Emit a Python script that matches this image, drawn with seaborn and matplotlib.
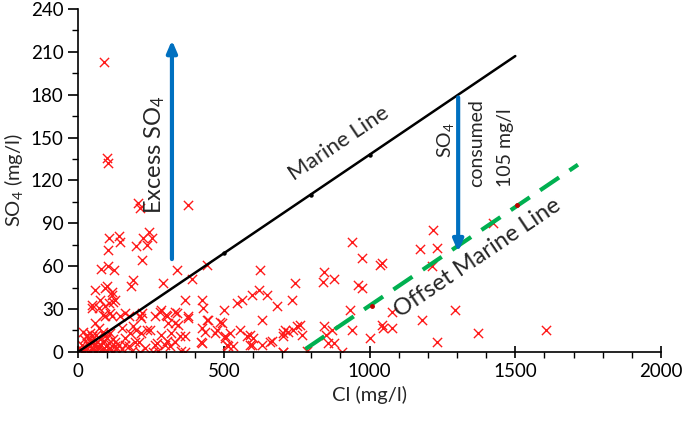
import matplotlib
matplotlib.use("Agg")
import matplotlib.pyplot as plt
import seaborn as sns
import pandas as pd

# Sample points: Cl (mg/l) and SO4 (mg/l)
cl = [89, 100, 103, 377, 206, 213,
      105, 140, 144, 103, 197, 222, 242, 254, 237, 220, 80, 103, 122, 340,
      441, 390, 293, 190, 181, 58, 98, 116, 75, 121, 47, 87, 116, 144, 173, 213, 281, 304, 339, 333,
      367, 378, 424, 430, 444, 424, 424, 501, 493, 505, 544, 561, 596, 624, 619, 647, 630, 681,
      556, 579, 596, 521, 476, 516, 659, 704, 702,
      218, 190, 236, 304, 270, 350, 316, 367, 213, 258,
      733, 744, 842, 839, 441, 436, 487, 590, 601, 590, 504, 510, 533, 470, 630, 664, 704, 710,
      721, 704, 750, 762, 767, 739, 784, 842, 851, 859,
      939, 973, 1042, 1036, 878, 962, 973, 933, 939, 870, 877, 905, 1002, 1042, 1047, 1076, 1076,
      1179, 1230, 1219, 1173, 1233, 1293, 1213, 1373, 1425, 1606,
      94, 117, 128, 48, 71, 94, 105, 111, 162, 94, 59, 71, 31, 48, 94, 151, 179, 197, 208, 162,
      128, 17, 41,
      284, 303, 331, 343, 377, 263, 309, 217, 246, 217, 286, 320, 366, 423, 263, 297, 331, 229, 274, 354,
      10, 15, 20, 25, 30, 35, 40, 45, 50, 55, 60, 65, 70, 75, 80, 85, 90, 95, 100, 105, 110, 115,
      120, 125, 130, 20, 35, 50, 60, 75, 85, 100, 110, 140, 150, 160, 175, 185, 195, 12, 28, 42,
      58, 68, 88]
so4 = [203, 136, 132, 103, 104, 101,
       80, 81, 77, 71, 74, 80, 84, 80, 75, 64, 58, 60, 57, 57,
       61, 51, 48, 50, 46, 43, 46, 40, 36, 35, 31, 26, 25, 25, 25, 25, 28, 25, 27, 20,
       36, 25, 36, 31, 22, 17, 6, 29, 20, 11, 34, 36, 40, 57, 43, 40, 22, 32,
       15, 11, 5, 13, 15, 4, 7, 13, 0,
       27, 18, 15, 8, 6, 11, 4, 0, 0, 0,
       36, 48, 56, 49, 22, 14, 21, 12, 10, 5, 10, 5, 4, 13, 5, 8, 0, 15,
       14, 11, 18, 19, 12, 15, 1, 18, 12, 6,
       77, 66, 62, 61, 51, 47, 45, 29, 15, 15, 6, 0, 10, 19, 17, 17, 28,
       22, 7, 85, 72, 73, 29, 60, 13, 90, 15,
       45, 42, 36, 33, 31, 32, 34, 27, 27, 25, 20, 17, 12, 11, 11, 17, 13, 15, 7, 5,
       7, 14, 13,
       29, 26, 28, 19, 24, 25, 20, 24, 15, 13, 12, 13, 11, 7, 5, 5, 7, 3, 1, 1,
       2, 5, 1, 3, 6, 0, 4, 8, 2, 5, 1, 7, 3, 0, 5, 2, 8, 4, 1, 6, 3, 0,
       9, 4, 2, 9, 10, 7, 12, 9, 14, 10, 13, 5, 2, 10, 4, 1, 7, 0, 2, 1,
       0, 4, 0]

# Marine line and offset marine line
marine_cl = [0, 1500]
marine_so4 = [0, 207]
marine_dot_cl = [500, 800, 1000]
marine_dot_so4 = [69, 110, 138]
offset_cl = [780, 1715]
offset_so4 = [2, 131]
offset_dot_cl = [1008, 1506]
offset_dot_so4 = [32, 103]

# Arrows: excess SO4 and SO4 consumed
excess_cl = 322
excess_so4 = [63, 220]
consumed_cl = 1304
consumed_so4 = [180, 68]

sns.set_style("ticks")
plt.rcParams["font.family"] = ["Lato", "DejaVu Sans"]
plt.rcParams["mathtext.fontset"] = "custom"
plt.rcParams["mathtext.rm"] = "Lato"
plt.rcParams["mathtext.it"] = "Lato:italic"

df = pd.DataFrame({"Cl": cl, "SO4": so4})

fig = plt.figure(figsize=(6.85, 4.23), dpi=100)
ax = fig.add_axes([0.114, 0.168, 0.851, 0.811])

sns.scatterplot(data=df, x="Cl", y="SO4", marker="x", color="#ff1a1a", s=44,
                linewidth=1.0, ax=ax, zorder=2)

sns.lineplot(x=marine_cl, y=marine_so4, color="black", linewidth=1.8, ax=ax, zorder=3)
ax.plot(marine_dot_cl, marine_dot_so4, "o", color="black", markersize=2.2, zorder=3)
sns.lineplot(x=offset_cl, y=offset_so4, color="#00b050", linewidth=3, ax=ax,
             dashes=False, zorder=3).lines[-1].set_dashes([5.5, 3])
ax.plot(offset_dot_cl, offset_dot_so4, "o", color="#c00000", markersize=2.5, zorder=4)

ax.annotate("", xy=(excess_cl, excess_so4[1]), xytext=(excess_cl, excess_so4[0]),
            arrowprops=dict(arrowstyle="-|>,head_length=0.7,head_width=0.3",
                            color="#0070c0", lw=3), zorder=4)
ax.annotate("", xy=(consumed_cl, consumed_so4[1]), xytext=(consumed_cl, consumed_so4[0]),
            arrowprops=dict(arrowstyle="-|>,head_length=0.7,head_width=0.3",
                            color="#0070c0", lw=3), zorder=4)

ax.text(895, 146, "Marine Line", rotation=34, ha="center", va="center",
        rotation_mode="anchor", fontsize=16)
ax.text(1372, 66, "Offset Marine Line", rotation=34, ha="center", va="center",
        rotation_mode="anchor", fontsize=17)
ax.text(264, 138, r"Excess SO$_\mathrm{4}$", rotation=90, ha="center", va="center", fontsize=17)
ax.text(1262, 148, r"SO$_\mathrm{4}$", rotation=90, ha="center", va="center", fontsize=14)
ax.text(1369, 146, "consumed", rotation=90, ha="center", va="center", fontsize=14)
ax.text(1465, 143, "105 mg/l", rotation=90, ha="center", va="center", fontsize=14)

ax.set_xlim(0, 2000)
ax.set_ylim(0, 240)
ax.set_xticks(range(0, 2001, 500))
ax.set_yticks(range(0, 241, 30))
ax.set_xticks(range(0, 2001, 100), minor=True)
ax.set_yticks(range(0, 241, 15), minor=True)
ax.tick_params(axis="x", which="major", direction="inout", length=9, width=1.2,
               labelsize=13.5, colors="black")
ax.tick_params(axis="y", which="major", direction="out", length=7, width=1.2,
               labelsize=13.5, colors="black")
ax.tick_params(which="minor", direction="out", length=4, width=1.0, colors="black")
for side in ["left", "bottom"]:
    ax.spines[side].set_color("black")
    ax.spines[side].set_linewidth(1.2)
sns.despine(ax=ax)
ax.set_xlabel("Cl (mg/l)", fontsize=14.5)
ax.set_ylabel(r"SO$_\mathrm{4}$ (mg/l)", fontsize=14.5)

fig.savefig("out.png", dpi=100)
